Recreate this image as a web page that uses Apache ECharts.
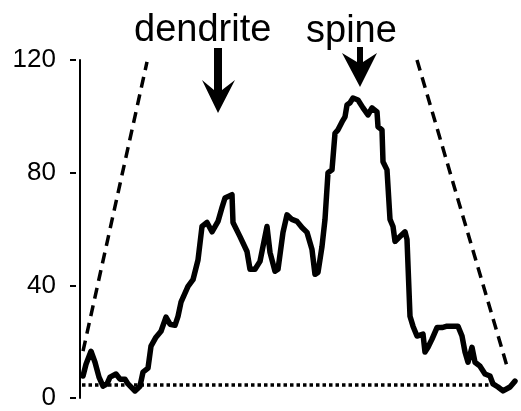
<!DOCTYPE html>
<html>
<head>
<meta charset="utf-8">
<script src="https://cdn.jsdelivr.net/npm/echarts@6/dist/echarts.min.js"></script>
<style>
  html, body { margin: 0; padding: 0; background: #fff; }
  #chart { width: 521px; height: 411px; }
</style>
</head>
<body>
<div id="chart"></div>
<script>
// position along the line scan (arbitrary units) and fluorescence intensity
var positions = [3, 6, 11, 15, 19, 23, 27, 30, 36, 40, 45, 48, 55, 60, 63, 68, 71, 76, 81, 86,
  90, 95, 98, 101, 108, 113, 118, 122, 127, 132, 138, 142, 145, 152, 153, 160, 167, 170, 175, 180,
  187, 190, 195, 198, 203, 207, 212, 217, 222, 227, 232, 235, 238, 242, 245, 248, 252, 255, 258, 262,
  265, 267, 270, 273, 278, 283, 288, 292, 297, 298, 302, 303, 307, 310, 313, 315, 320, 325, 327, 330,
  333, 337, 343, 345, 348, 352, 357, 362, 367, 373, 378, 382, 385, 388, 392, 395, 400, 405, 410, 413,
  418, 423, 430, 435];
var intensity = [7.8, 12, 16.6, 12.7, 7.4, 4.2, 5, 7.4, 8.5, 6.7, 6.7, 5, 2.5, 4.2, 9.2, 10.6, 18.4, 21.6, 23.7, 28.7,
  26.2, 25.8, 29, 34, 39.6, 42, 49, 60.9, 62.3, 59, 62.7, 67.6, 71, 72.2, 62.3, 57.3, 52, 45.7, 45.7, 48.5,
  60.9, 51.7, 45, 45.7, 58.8, 65, 63.4, 62.7, 60.5, 58.8, 52.7, 43.9, 44.6, 53.8, 63.4, 80, 81, 94, 95.2, 98,
  99.8, 104, 104.8, 106.5, 105.8, 103, 100.5, 103, 101.6, 96.3, 95.2, 83.9, 81, 63.4, 60.9, 55.6, 57.3, 59, 56.3, 29,
  25.5, 22, 22.7, 16.3, 18, 20.9, 25, 25, 25.5, 25.5, 25.5, 22, 16.3, 12.7, 18, 12.7, 11.3, 8.5, 7.8, 5,
  3.9, 2.5, 3.9, 6];

var leftEdge = [[3, 16.6], [67, 119.3]];
var rightEdge = [[337, 120], [427, 11.3]];
var baseline = [[2, 4.6], [410, 4.6]];
var yTicks = [0, 40, 80, 120];

var trace = positions.map(function (x, i) { return [x, intensity[i]]; });

var myChart = echarts.init(document.getElementById('chart'));
myChart.setOption({
    animation: false,
    backgroundColor: '#fff',
    textStyle: {fontFamily: 'Liberation Sans, Arial, sans-serif'},
    grid: {left: 80, right: 1, top: 60, bottom: 12},
    xAxis: {type: 'value', min: 0, max: 440, show: false},
    yAxis: [{
        type: 'value', min: yTicks[0], max: yTicks[yTicks.length - 1], interval: 40,
        axisLine: {show: true, lineStyle: {color: '#000', width: 2}},
        axisTick: {show: false}, axisLabel: {show: false}, splitLine: {show: false}
    }, {
        type: 'value', position: 'left', offset: 4,
        min: yTicks[0], max: yTicks[yTicks.length - 1], interval: 40,
        axisLine: {show: false},
        axisTick: {show: true, length: 6, lineStyle: {color: '#000', width: 2}},
        axisLabel: {color: '#000', fontSize: 26, margin: 20},
        splitLine: {show: false}
    }],
    series: [{
        type: 'line', data: trace, showSymbol: false, symbol: 'none',
        lineStyle: {color: '#000', width: 5.5, join: 'round', cap: 'round'}
    }, {
        type: 'line', data: leftEdge, symbol: 'none',
        lineStyle: {color: '#000', width: 3.5, type: [11, 7]}
    }, {
        type: 'line', data: rightEdge, symbol: 'none',
        lineStyle: {color: '#000', width: 3.5, type: [11, 7]}
    }, {
        type: 'line', data: baseline, symbol: 'none',
        lineStyle: {color: '#000', width: 3.5, type: [3.5, 3]}
    }],
    graphic: [
        {type: 'text', left: 134, top: 12,
            style: {text: 'dendrite', font: '38px Liberation Sans, Arial', fill: '#000'}},
        {type: 'text', left: 306, top: 13,
            style: {text: 'spine', font: '38px Liberation Sans, Arial', fill: '#000'}},
        {type: 'polygon', shape: {points: [[214, 48], [222, 48], [222, 90], [235, 80], [218, 113], [202, 80], [214, 90]]},
            style: {fill: '#000'}},
        {type: 'polygon', shape: {points: [[357, 47], [363, 47], [363, 62], [377, 53], [360, 87], [342, 53], [357, 62]]},
            style: {fill: '#000'}}
    ]
});
</script>
</body>
</html>
